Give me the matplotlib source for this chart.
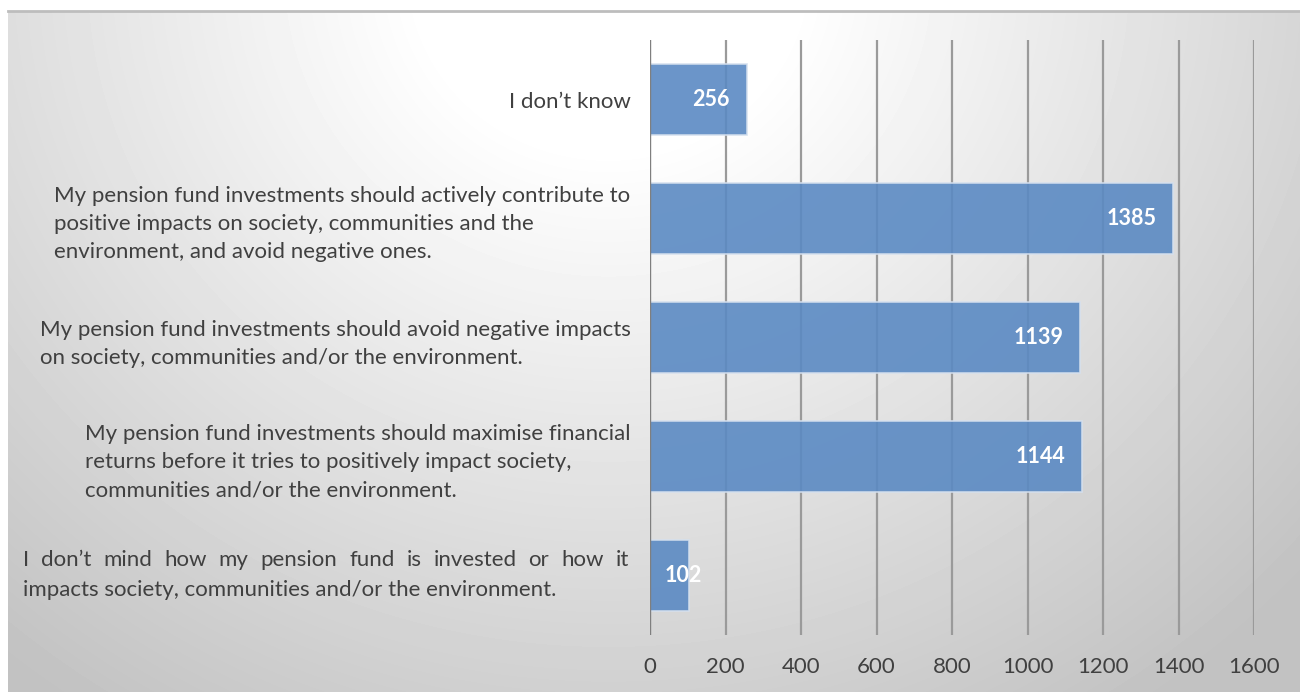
import matplotlib
matplotlib.use("Agg")
import matplotlib.pyplot as plt
import numpy as np

plt.rcParams['font.family'] = ['Lato', 'DejaVu Sans']

# data (bottom to top)
categories = [
    "I don\u2019t mind how my pension fund is invested or how it\nimpacts society, communities and/or the environment.",
    "My pension fund investments should maximise financial\nreturns before it tries to positively impact society,\ncommunities and/or the environment.",
    "My pension fund investments should avoid negative impacts\non society, communities and/or the environment.",
    "My pension fund investments should actively contribute to\npositive impacts on society, communities and the\nenvironment, and avoid negative ones.",
    "I don\u2019t know",
]
values = [102, 1144, 1139, 1385, 256]
xticks = [0, 200, 400, 600, 800, 1000, 1200, 1400, 1600]

bar_color = '#5b8ac3'
text_color = '#404040'
FS = 16
LS = 1.5

fig = plt.figure(figsize=(13, 6.92), dpi=100)
W, H = 1300, 692

# background with radial gradient
bg = fig.add_axes([8/W, 0, 1 - 8/W, 681/H])
bg.set_axis_off()
yy, xx = np.mgrid[0:681, 0:1292]
r = np.sqrt(((xx - 600) / 850.0) ** 2 + ((yy + 40) / 800.0) ** 2)
shade = np.clip(1.06 - 0.27 * r, 0.76, 1.0)
bg.imshow(shade, cmap='gray', vmin=0, vmax=1, aspect='auto',
          extent=[0, 1, 0, 1], origin='upper')
bg.plot([0, 1], [1, 1], color='#bdbdbd', lw=2, transform=bg.transAxes, clip_on=False)
bg.set_xlim(0, 1)
bg.set_ylim(0, 1)

ax = fig.add_axes([650/W, 1 - 635/H, (1254 - 650)/W, (635 - 40)/H])
ax.patch.set_alpha(0)
y = np.arange(len(categories))
bars = ax.barh(y, values, height=0.6, color=bar_color, alpha=0.9,
               edgecolor='#d5e0ee', linewidth=1.2, zorder=3)

for yi, v in zip(y, values):
    # label does not fit in a short bar -> let it spill past the end
    dx = 10 if v < 200 else -12
    ax.annotate(str(v), (v, yi), xytext=(dx, 0), textcoords='offset points',
                ha='right', va='center', color='white', fontsize=15.5,
                fontweight='bold', zorder=5)

ax.set_xlim(0, 1600)
ax.set_ylim(-0.5, len(categories) - 0.5)
ax.set_xticks(xticks)
ax.set_xticklabels([str(t) for t in xticks], fontsize=FS, color=text_color)
ax.set_yticks(y)
labels = [''] + categories[1:]
ax.set_yticklabels(labels, fontsize=FS, color=text_color,
                   multialignment='left', linespacing=LS)
ax.tick_params(axis='x', length=0, pad=16)
ax.tick_params(axis='y', length=0, pad=14)

for t in xticks[1:]:
    ax.axvline(t, color='#9a9a9a', lw=1.6, zorder=1)
ax.axvline(0, color='#7f7f7f', lw=1, zorder=4)

for s in ax.spines.values():
    s.set_visible(False)

# justified first label (bottom category)
renderer = fig.canvas.get_renderer()
box_left, box_right = 23, 629  # pixel columns of the label box
line1, line2 = categories[0].split('\n')
words = line1.split(' ')
ycen = ax.transData.transform((0, y[0]))[1]
probe = fig.text(0, 0, 'Ag', fontsize=FS)
line_h = probe.get_window_extent(renderer).height * LS
probe.remove()
widths = []
for wd in words:
    t = fig.text(0, 0, wd, fontsize=FS)
    widths.append(t.get_window_extent(renderer).width)
    t.remove()
gap = (box_right - box_left - sum(widths)) / (len(words) - 1)
xpos = box_left
y1 = ycen + line_h / 2
for wd, wdt in zip(words, widths):
    fig.text(xpos / W, y1 / H, wd, fontsize=FS, color=text_color,
             ha='left', va='center')
    xpos += wdt + gap
fig.text(box_left / W, (ycen - line_h / 2) / H, line2, fontsize=FS,
         color=text_color, ha='left', va='center')

fig.savefig('out.png', dpi=100)
